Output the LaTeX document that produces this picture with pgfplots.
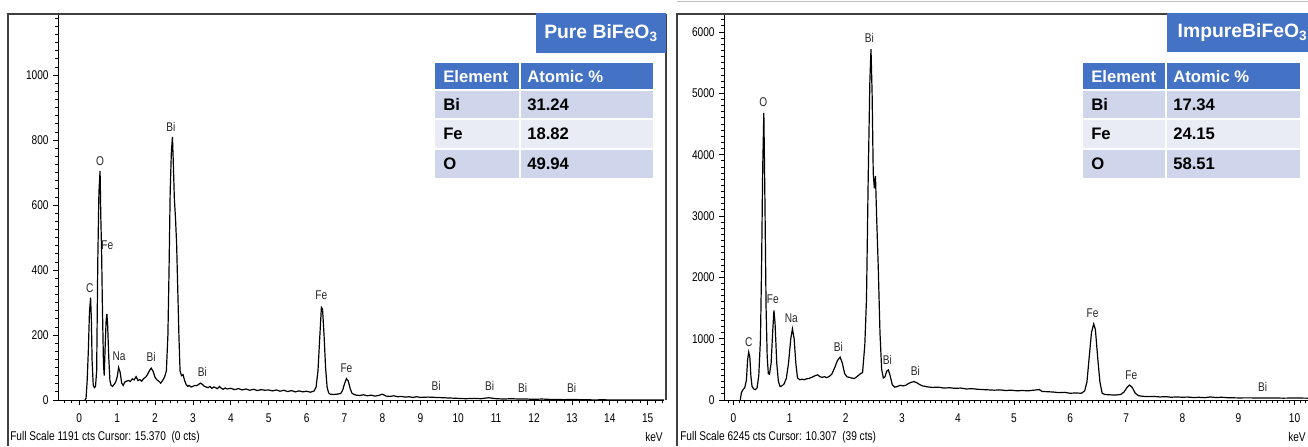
\documentclass[border=0pt]{standalone}
\usepackage{fontspec}
\setmainfont{Liberation Sans}
\newfontfamily\tickfont[FakeStretch=0.8]{Liberation Sans}
\usepackage{pgfplots}
\pgfplotsset{compat=1.18}
\definecolor{hdr}{HTML}{4472C4}
\definecolor{rowa}{HTML}{CFD5EA}
\definecolor{rowb}{HTML}{E9EBF5}
\definecolor{frame}{HTML}{404040}

\pgfplotsset{eds/.style={
 scale only axis, anchor=south west,
 axis x line=bottom, axis y line=left,
 axis line style={-,black,line width=0.6pt},
 ymin=0, tick align=outside,
 major tick length=3.5pt, minor tick length=2.5pt,
 tick style={black,line width=0.6pt},
 minor tick style={black,line width=0.6pt},
 ticklabel style={font=\tickfont\fontsize{9.5}{10}\selectfont},
 xticklabel style={yshift=-3pt},
 /pgf/number format/assume math mode=true,
 /pgf/number format/1000 sep={},
 scaled y ticks=false, scaled x ticks=false,
 clip=false}}
\tikzset{pk/.style={font=\tickfont\fontsize{9.5}{10}\selectfont,text=black!85,inner sep=0pt}}

\pgfplotstableread{
kev cts
0.15 0
0.18 5
0.21 60
0.24 150
0.27 270
0.30 315
0.32 250
0.34 120
0.37 45
0.40 38
0.43 42
0.46 90
0.49 430
0.52 640
0.55 705
0.57 560
0.59 460
0.61 300
0.64 110
0.66 75
0.68 150
0.71 245
0.73 265
0.75 230
0.78 130
0.81 60
0.84 45
0.88 42
0.92 48
0.96 55
1.00 70
1.04 100
1.08 85
1.12 52
1.16 45
1.20 55
1.25 58
1.30 60
1.35 57
1.40 65
1.45 62
1.50 72
1.55 60
1.60 63
1.65 58
1.70 66
1.75 70
1.80 78
1.85 90
1.90 98
1.95 88
2.00 70
2.05 62
2.10 58
2.15 52
2.20 60
2.25 70
2.30 90
2.34 200
2.37 400
2.40 640
2.43 760
2.46 810
2.48 740
2.51 620
2.54 560
2.57 480
2.60 340
2.63 200
2.66 90
2.70 75
2.74 78
2.78 60
2.82 48
2.86 42
2.90 45
2.95 40
3.00 42
3.05 45
3.10 44
3.15 48
3.20 52
3.25 48
3.30 42
3.35 40
3.40 38
3.45 42
3.50 36
3.55 40
3.60 38
3.65 35
3.70 42
3.75 36
3.80 33
3.85 37
3.90 34
4.00 36
4.10 32
4.20 35
4.30 31
4.40 34
4.50 30
4.60 33
4.70 29
4.80 32
4.90 30
5.00 31
5.10 28
5.20 31
5.30 27
5.40 30
5.50 26
5.60 29
5.70 25
5.80 28
5.90 25
6.00 27
6.10 24
6.20 28
6.25 40
6.30 90
6.35 200
6.39 285
6.42 280
6.46 200
6.50 100
6.54 40
6.58 22
6.62 18
6.70 17
6.80 18
6.90 20
6.95 30
7.00 50
7.05 66
7.10 58
7.15 35
7.20 20
7.30 15
7.40 14
7.50 16
7.60 13
7.70 15
7.80 12
7.90 14
8.00 18
8.10 12
8.20 11
8.30 13
8.40 10
8.50 11
8.60 9
8.70 10
8.80 8
8.90 10
9.00 8
9.20 9
9.40 8
9.60 7
9.80 6
10.00 5
10.20 4
10.40 5
10.60 4
10.80 7
11.00 4
11.20 3
11.40 4
11.60 3
11.80 3
12.00 2
12.20 3
12.40 2
12.60 2
12.80 1
13.00 2
13.20 1
13.40 1
13.60 0
13.80 1
14.00 0
15.00 0
15.43 0
}\pure

\pgfplotstableread{
kev cts
0.12 0
0.14 120
0.17 170
0.20 200
0.23 330
0.25 650
0.27 780
0.29 700
0.31 380
0.33 220
0.36 180
0.39 170
0.42 200
0.45 400
0.48 1000
0.50 2200
0.52 3800
0.54 4680
0.56 3200
0.58 1500
0.60 700
0.62 430
0.64 420
0.67 600
0.70 1150
0.72 1460
0.74 1250
0.77 600
0.80 300
0.83 220
0.86 230
0.90 260
0.94 350
0.98 600
1.02 1000
1.05 1160
1.08 1000
1.11 600
1.14 360
1.18 330
1.22 340
1.26 330
1.30 345
1.34 350
1.38 365
1.42 380
1.46 400
1.50 410
1.54 380
1.58 370
1.62 380
1.66 365
1.70 380
1.75 420
1.80 520
1.85 640
1.90 700
1.94 600
1.98 430
2.02 380
2.06 370
2.10 360
2.15 350
2.20 380
2.25 420
2.30 450
2.34 900
2.37 1650
2.40 3600
2.43 5200
2.45 5720
2.47 5000
2.49 3700
2.51 3450
2.53 3650
2.55 3000
2.58 2150
2.61 1100
2.64 500
2.67 360
2.70 380
2.73 470
2.76 490
2.79 400
2.83 250
2.87 210
2.92 220
2.97 240
3.02 230
3.07 240
3.12 270
3.17 290
3.22 300
3.27 280
3.32 250
3.37 230
3.45 215
3.55 205
3.65 210
3.75 195
3.85 200
3.95 190
4.05 195
4.15 180
4.25 185
4.35 175
4.45 170
4.55 165
4.65 160
4.75 165
4.85 155
4.95 160
5.05 150
5.15 155
5.25 150
5.35 160
5.45 170
5.50 140
5.60 135
5.70 130
5.80 120
5.90 125
6.00 110
6.10 115
6.20 110
6.26 150
6.30 300
6.34 700
6.38 1100
6.42 1240
6.45 1150
6.49 700
6.53 300
6.57 110
6.62 90
6.70 85
6.80 80
6.90 90
6.96 130
7.01 200
7.06 245
7.11 200
7.16 110
7.22 70
7.30 60
7.40 55
7.50 58
7.60 50
7.70 55
7.80 45
7.90 50
8.00 45
8.10 48
8.20 40
8.30 44
8.40 38
8.50 50
8.60 40
8.70 45
8.80 38
8.90 36
9.00 34
9.20 35
9.40 32
9.60 34
9.80 30
10.00 33
10.24 30
}\impure

\begin{document}
\begin{tikzpicture}[x=0.75pt,y=-0.75pt]
\useasboundingbox (0,0) rectangle (1308,446);
\draw[black!25,line width=0.5pt] (677,1.5) -- (1308,1.5);

% pure sample
\begin{axis}[eds, at={(43.5pt,-300pt)}, width=454.5pt, height=289.5pt,
 xmin=-0.56, xmax=15.43, ymax=1188,
 xtick={0,1,...,15}, minor xtick={-0.4,-0.2,...,15.4},
 ytick={0,200,...,1000}, minor ytick={25,50,...,1175}]
\addplot[black,line width=0.9pt] table[x=kev,y=cts] {\pure};
\node[pk] at (axis cs:0.28,345) {C};
\node[pk] at (axis cs:0.55,736) {O};
\node[pk] at (axis cs:0.74,477) {Fe};
\node[pk] at (axis cs:1.05,134) {Na};
\node[pk] at (axis cs:1.90,132) {Bi};
\node[pk] at (axis cs:2.42,842) {Bi};
\node[pk] at (axis cs:3.25,88) {Bi};
\node[pk] at (axis cs:6.39,323) {Fe};
\node[pk] at (axis cs:7.05,98) {Fe};
\node[pk] at (axis cs:9.42,43) {Bi};
\node[pk] at (axis cs:10.83,43) {Bi};
\node[pk] at (axis cs:11.70,36) {Bi};
\node[pk] at (axis cs:12.99,38) {Bi};
\end{axis}

% impure sample
\begin{axis}[eds, at={(543pt,-300pt)}, width=438pt, height=289.5pt,
 xmin=-0.17, xmax=10.24, ymax=6294,
 xtick={0,1,...,10}, minor xtick={-0.1,0,...,10.2},
 ytick={0,1000,...,6000}, minor ytick={100,200,...,6200}]
\addplot[black,line width=0.9pt] table[x=kev,y=cts] {\impure};
\node[pk] at (axis cs:0.27,950) {C};
\node[pk] at (axis cs:0.53,4860) {O};
\node[pk] at (axis cs:0.70,1645) {Fe};
\node[pk] at (axis cs:1.03,1330) {Na};
\node[pk] at (axis cs:1.87,869) {Bi};
\node[pk] at (axis cs:2.42,5908) {Bi};
\node[pk] at (axis cs:2.74,652) {Bi};
\node[pk] at (axis cs:3.24,478) {Bi};
\node[pk] at (axis cs:6.40,1412) {Fe};
\node[pk] at (axis cs:7.09,407) {Fe};
\node[pk] at (axis cs:9.43,217) {Bi};
\end{axis}

% frames
\draw[frame,line width=1.1pt] (8,446) -- (8,14) -- (536,14);
\draw[frame,line width=1.1pt] (666,14) -- (666,400);
\draw[frame,line width=1.1pt] (677,446) -- (677,14) -- (1167,14);

% titles
\fill[hdr] (536,13) rectangle (666,53);
\node[text=white,font=\bfseries\fontsize{14.5}{16}\selectfont] at (601,33) {Pure BiFeO\textsubscript{3}};
\fill[hdr] (1167,13) rectangle (1310,52);
\node[text=white,anchor=west,font=\bfseries\fontsize{14.5}{16}\selectfont] at (1173,33) {ImpureBiFeO\textsubscript{3}};

% tables
\foreach \xa/\xb/\xc/\va/\vb/\vc in {435/520/653/31.24/18.82/49.94, 1083/1166/1300/17.34/24.15/58.51}{
 \fill[hdr] (\xa,63) rectangle (\xc,90);
 \fill[rowa] (\xa,90) rectangle (\xc,119);
 \fill[rowb] (\xa,119) rectangle (\xc,149);
 \fill[rowa] (\xa,149) rectangle (\xc,178);
 \draw[white,line width=1.2pt] (\xa,90) -- (\xc,90) (\xa,119) -- (\xc,119) (\xa,149) -- (\xc,149) (\xb,63) -- (\xb,178);
 \begin{scope}[every node/.style={anchor=west,inner sep=0pt,font=\bfseries\fontsize{12.5}{14}\selectfont}]
 \node[text=white] at (\xa+8,76.5) {Element};
 \node[text=white] at (\xb+7,76.5) {Atomic \%};
 \node at (\xa+8,104.5) {Bi};
 \node at (\xb+7,104.5) {\va};
 \node at (\xa+8,134) {Fe};
 \node at (\xb+7,134) {\vb};
 \node at (\xa+8,163.5) {O};
 \node at (\xb+7,163.5) {\vc};
 \end{scope}
}

% status lines
\begin{scope}[every node/.style={anchor=west,inner sep=0pt,font=\tickfont\fontsize{9.5}{10}\selectfont}]
\node at (10,437) {Full Scale 1191 cts Cursor: 15.370\ \ (0 cts)};
\node at (645,437) {keV};
\node at (680,437) {Full Scale 6245 cts Cursor: 10.307\ \ (39 cts)};
\node at (1288,437) {keV};
\end{scope}
\end{tikzpicture}
\end{document}
